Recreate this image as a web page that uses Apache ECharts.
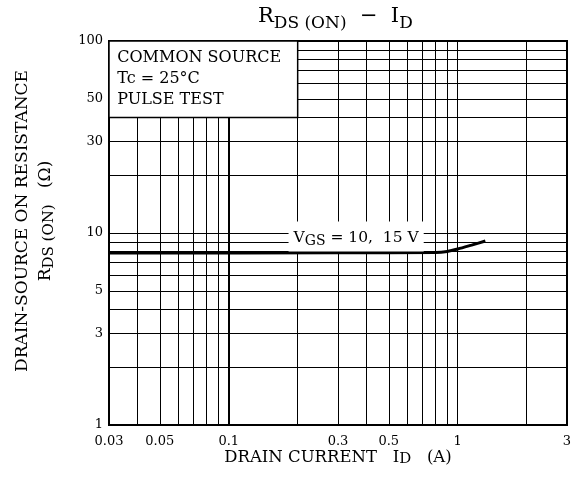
<!DOCTYPE html>
<html>
<head>
<meta charset="utf-8">
<script src="https://cdn.jsdelivr.net/npm/echarts@6/dist/echarts.min.js"></script>
<style>
  html, body { margin: 0; padding: 0; background: #fff; }
  #chart { width: 577px; height: 492px; }
</style>
</head>
<body>
<div id="chart"></div>
<script>
// curve: drain current (A) vs on-resistance (ohm)
const curveId = [0.03, 0.3, 0.8, 0.9, 1.0, 1.15, 1.32];
const curveRds = [7.87, 7.88, 7.92, 8.02, 8.25, 8.65, 9.08];

// grid lines
const xGrid = [0.04, 0.05, 0.06, 0.07, 0.08, 0.09, 0.1, 0.2, 0.3, 0.4, 0.5, 0.6, 0.7, 0.8, 0.9, 1, 2];
const yGrid = [2, 3, 4, 5, 6, 7, 8, 9, 10, 20, 30, 40, 50, 60, 70, 80, 90];

// tick labels
const xTicks = [0.03, 0.05, 0.1, 0.3, 0.5, 1, 3];
const yTicks = [1, 3, 5, 10, 30, 50, 100];

const FONT = 'DejaVu Serif';
const chart = echarts.init(document.getElementById('chart'));

const gridLines = [];
xGrid.forEach(v => gridLines.push({ xAxis: v, lineStyle: { width: v === 0.1 ? 2 : 1 } }));
yGrid.forEach(v => gridLines.push({ yAxis: v }));

chart.setOption({
  animation: false,
  title: {
    text: 'R{s|DS (ON)}  −  I{s|D}',
    left: 253,
    top: -3,
    textStyle: {
      fontFamily: FONT,
      fontWeight: 'normal',
      fontSize: 21,
      color: '#000',
      lineHeight: 30,
      rich: {
        s: { fontFamily: FONT, fontSize: 17, color: '#000', verticalAlign: 'bottom', lineHeight: 18 }
      }
    }
  },
  grid: {
    left: 109, right: 10, top: 41, bottom: 67,
    show: true, borderColor: '#000', borderWidth: 2, backgroundColor: '#fff'
  },
  xAxis: {
    type: 'log',
    min: 0.03, max: 3,
    axisLine: { show: false },
    axisTick: { show: false },
    splitLine: { show: false },
    axisLabel: {
      customValues: xTicks,
      fontFamily: FONT, fontSize: 13, color: '#000', margin: 10,
      formatter: v => String(+v.toPrecision(3))
    },
    name: 'DRAIN CURRENT   I{s|D}   (A)',
    nameLocation: 'middle',
    nameGap: 24,
    nameMoveOverlap: false,
    nameTextStyle: {
      fontFamily: FONT, fontSize: 16.5, color: '#000', lineHeight: 18, verticalAlign: 'top',
      rich: { s: { fontFamily: FONT, fontSize: 15, color: '#000', verticalAlign: 'bottom', lineHeight: 12 } }
    }
  },
  yAxis: {
    type: 'log',
    min: 1, max: 100,
    axisLine: { show: false },
    axisTick: { show: false },
    splitLine: { show: false },
    axisLabel: {
      customValues: yTicks,
      fontFamily: FONT, fontSize: 13, color: '#000', margin: 6,
      formatter: v => String(+v.toPrecision(3))
    },
    name: 'DRAIN-SOURCE ON RESISTANCE\nR{s|DS (ON)}   (Ω)',
    nameLocation: 'middle',
    nameRotate: 90,
    nameGap: 52,
    nameMoveOverlap: false,
    nameTextStyle: {
      fontFamily: FONT, fontSize: 17, color: '#000', lineHeight: 23,
      padding: [0, 0, 0, 24],
      rich: { s: { fontFamily: FONT, fontSize: 15, color: '#000', verticalAlign: 'bottom', lineHeight: 15 } }
    }
  },
  series: [
    {
      type: 'line',
      z: 2,
      data: curveId.map((x, i) => [x, curveRds[i]]),
      smooth: 0.3,
      symbol: 'none',
      lineStyle: { color: '#000', width: 3 },
      markLine: {
        z: 1,
        silent: true,
        symbol: ['none', 'none'],
        label: { show: false },
        lineStyle: { color: '#000', width: 1, type: 'solid' },
        data: gridLines
      },
      markArea: {
        z: 3,
        silent: true,
        itemStyle: { color: '#fff', opacity: 1, borderColor: '#000', borderWidth: 1.5 },
        label: {
          show: true,
          position: 'insideTopLeft',
          offset: [4, 2],
          fontFamily: FONT, fontSize: 16, color: '#000', lineHeight: 21,
          formatter: 'COMMON SOURCE\nTc = 25°C\nPULSE TEST'
        },
        data: [[{ coord: [0.03, 40] }, { coord: [0.2, 100] }]]
      },
      markPoint: {
        z: 4,
        silent: true,
        symbol: 'rect',
        symbolSize: 0,
        label: {
          show: true,
          position: 'inside',
          formatter: 'V{s|GS} = 10,  15 V',
          fontFamily: FONT, fontSize: 15.5, color: '#000',
          backgroundColor: '#fff',
          padding: [7, 5, 3, 5],
          lineHeight: 20,
          rich: { s: { fontFamily: FONT, fontSize: 14, color: '#000', verticalAlign: 'bottom', lineHeight: 14 } }
        },
        data: [{ coord: [0.36, 9.6] }]
      }
    }
  ]
});
</script>
</body>
</html>
